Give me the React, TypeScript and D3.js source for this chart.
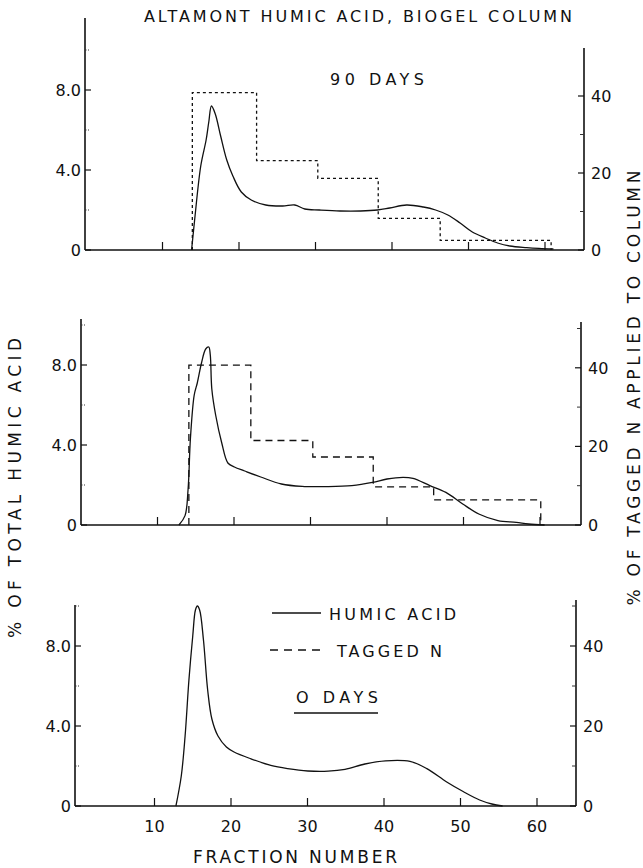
import React from "react";
import * as d3 from "d3";

// ---------- DATA ----------
const xTickValues = [10, 20, 30, 40, 50, 60];
const xTickLabels = ["10", "20", "30", "40", "50", "60"];
const leftTickValues = [0, 4, 8];
const leftTickLabels = ["0", "4.0", "8.0"];
const leftMinorTicks = [2, 6, 10];
const rightTickValues = [0, 20, 40];
const rightTickLabels = ["0", "20", "40"];
const rightMinorTicks = [10, 30, 50];

// 90 days – humic acid (% of total humic acid)
const day90Fraction = [13.8, 14.2, 15.0, 15.7, 16.05, 16.4, 16.9, 17.6, 18.4, 19.2, 20.3, 21.6, 23.5, 25.7, 27.3, 28.6, 30.5, 33.2, 35.9, 38.1, 39.7, 41.9, 44.1, 45.7, 47.3, 48.9, 50.5, 52.2, 53.8, 55.4, 57.6, 59.2, 61.1];
const day90Humic = [0, 1.5, 4.2, 5.5, 6.4, 7.2, 6.8, 5.7, 4.5, 3.7, 2.9, 2.5, 2.25, 2.2, 2.25, 2.05, 2.0, 1.95, 1.95, 2.0, 2.1, 2.25, 2.15, 2.0, 1.75, 1.35, 0.9, 0.6, 0.35, 0.2, 0.12, 0.08, 0.05];
// 90 days – tagged N (% applied), step boundaries and values
const day90StepEdges = [13.9, 22.3, 30.3, 38.2, 46.3, 60.8];
const day90TaggedN = [40.9, 23.2, 18.6, 8.2, 2.5];

// middle panel
const midFraction = [12.8, 13.6, 14.0, 14.3, 14.8, 15.2, 15.75, 16.3, 16.7, 16.9, 17.1, 17.6, 18.4, 19.2, 20.05, 21.4, 23.5, 26.2, 28.9, 32.2, 35.4, 38.1, 40.0, 42.1, 43.4, 45.6, 47.7, 49.9, 52.0, 54.5, 56.9, 58.5, 60.6];
const midHumic = [0, 0.47, 1.8, 4.3, 6.5, 7.1, 8.1, 8.8, 8.9, 8.5, 6.8, 5.5, 4.1, 3.1, 2.9, 2.7, 2.4, 2.05, 1.93, 1.92, 1.97, 2.13, 2.3, 2.38, 2.33, 1.97, 1.63, 1.05, 0.55, 0.22, 0.13, 0.05, 0];
const midStepEdges = [14.1, 22.2, 30.3, 38.2, 46.1, 60.1];
const midTaggedN = [40.7, 21.5, 17.3, 9.7, 6.4];

// 0 days – humic acid
const day0Fraction = [12.8, 13.5, 14.0, 14.5, 15.0, 15.35, 15.6, 15.9, 16.4, 16.95, 17.5, 18.3, 19.4, 20.4, 22.6, 25.2, 27.4, 30.05, 32.7, 34.9, 37.5, 40.2, 43.4, 45.6, 48.2, 50.4, 52.5, 54.1, 55.5];
const day0Humic = [0, 1.5, 3.5, 6.3, 8.5, 9.8, 10.0, 9.8, 8.3, 5.8, 4.35, 3.5, 2.95, 2.7, 2.36, 2.03, 1.87, 1.75, 1.74, 1.83, 2.1, 2.26, 2.23, 1.87, 1.2, 0.71, 0.3, 0.1, 0];

const titleText = "ALTAMONT HUMIC ACID, BIOGEL COLUMN";
const leftAxisTitle = "% OF TOTAL HUMIC ACID";
const rightAxisTitle = "% OF TAGGED N APPLIED TO COLUMN";
const xAxisTitle = "FRACTION NUMBER";
const legendHumic = "HUMIC ACID";
const legendTagged = "TAGGED N";
const label90 = "90 DAYS";
const label0 = "O DAYS";

// ---------- LAYOUT ----------
const FONT = "'DejaVu Sans', sans-serif";
const PX_PER_FRACTION = 7.65;

type Panel = {
  axisL: number; axisR: number; x0: number; base: number;
  leftTop: number; rightTop: number; rPx: number;
  fraction: number[]; humic: number[];
  edges?: number[]; tagged?: number[]; dash?: string; rightMinor: number[];
  showXLabels: boolean;
};

function PanelView({ p }: { p: Panel }) {
  const x = d3.scaleLinear().domain([0, 65]).range([p.x0, p.x0 + 65 * PX_PER_FRACTION]);
  const yL = d3.scaleLinear().domain([0, 10]).range([p.base, p.base - 200]);
  const yR = d3.scaleLinear().domain([0, 50]).range([p.base, p.base - 50 * p.rPx]);

  const humicPts: [number, number][] = p.fraction.map((f, i) => [x(f), yL(p.humic[i])]);
  const humicPath = d3.line().curve(d3.curveCatmullRom.alpha(0.5))(humicPts) || "";

  let stepPath = "";
  if (p.edges && p.tagged) {
    const pts: [number, number][] = [[x(p.edges[0]), yR(0)]];
    p.tagged.forEach((v, i) => pts.push([x(p.edges![i]), yR(v)]));
    pts.push([x(p.edges[p.edges.length - 1]), yR(0)]);
    stepPath = d3.line().curve(d3.curveStepAfter)(pts) || "";
  }

  return (
    <g>
      {/* axes */}
      <line x1={p.axisL} y1={p.base} x2={p.axisL} y2={p.leftTop} stroke="#111" strokeWidth={1.6} />
      <line x1={p.axisR} y1={p.base} x2={p.axisR} y2={p.rightTop} stroke="#111" strokeWidth={1.6} />
      <line x1={p.axisL} y1={p.base} x2={p.axisR} y2={p.base} stroke="#111" strokeWidth={1.6} />
      {/* x ticks */}
      {xTickValues.map((v, i) => (
        <g key={"xt" + v}>
          <line x1={x(v)} x2={x(v)} y1={p.base} y2={p.base - 8} stroke="#111" strokeWidth={1.2} />
          {p.showXLabels && (
            <text x={x(v)} y={p.base + 26} textAnchor="middle" fontFamily={FONT} fontSize={16} fill="#111">{xTickLabels[i]}</text>
          )}
        </g>
      ))}
      {/* left ticks */}
      {leftTickValues.map((v, i) => (
        <g key={"lt" + v}>
          <line x1={p.axisL} x2={p.axisL + 6} y1={yL(v)} y2={yL(v)} stroke="#111" strokeWidth={1.2} />
          <text x={p.axisL - 4} y={yL(v)} dy="0.36em" textAnchor="end" fontFamily={FONT} fontSize={16} fill="#111">{leftTickLabels[i]}</text>
        </g>
      ))}
      {leftMinorTicks.map((v) => (
        <line key={"lm" + v} x1={p.axisL} x2={p.axisL + 4} y1={yL(v)} y2={yL(v)} stroke="#333" strokeWidth={1} strokeDasharray="1.5,1.5" />
      ))}
      {/* right ticks */}
      {rightTickValues.map((v, i) => (
        <g key={"rt" + v}>
          <line x1={p.axisR} x2={p.axisR - 6} y1={yR(v)} y2={yR(v)} stroke="#111" strokeWidth={1.2} />
          <text x={p.axisR + 7} y={yR(v)} dy="0.36em" textAnchor="start" fontFamily={FONT} fontSize={16} fill="#111">{rightTickLabels[i]}</text>
        </g>
      ))}
      {p.rightMinor.map((v) => (
        <line key={"rm" + v} x1={p.axisR} x2={p.axisR - 4} y1={yR(v)} y2={yR(v)} stroke="#333" strokeWidth={1} />
      ))}
      {/* series */}
      {stepPath && <path d={stepPath} fill="none" stroke="#111" strokeWidth={1.3} strokeDasharray={p.dash} />}
      <path d={humicPath} fill="none" stroke="#111" strokeWidth={1.3} />
    </g>
  );
}

export default function App() {
  const panels: Panel[] = [
    { axisL: 85, axisR: 584, x0: 86, base: 250, leftTop: 18, rightTop: 48, rPx: 3.85,
      fraction: day90Fraction, humic: day90Humic, edges: day90StepEdges, tagged: day90TaggedN,
      dash: "3,3", rightMinor: [10, 30], showXLabels: false },
    { axisL: 81, axisR: 581, x0: 81, base: 525, leftTop: 319, rightTop: 322, rPx: 3.93,
      fraction: midFraction, humic: midHumic, edges: midStepEdges, tagged: midTaggedN,
      dash: "7,5", rightMinor: rightMinorTicks, showXLabels: false },
    { axisL: 75, axisR: 576, x0: 78, base: 806, leftTop: 605, rightTop: 600, rPx: 4.0,
      fraction: day0Fraction, humic: day0Humic, rightMinor: rightMinorTicks, showXLabels: true },
  ];

  return (
    <svg width={643} height={868} viewBox="0 0 643 868"
      style={{ position: "absolute", left: 0, top: 0, background: "#fff" }}>
      <rect x={0} y={0} width={643} height={868} fill="#fff" />
      <text x={144} y={22} fontFamily={FONT} fontSize={16} fill="#111" textLength={428} lengthAdjust="spacing">{titleText}</text>
      <text x={330} y={85} fontFamily={FONT} fontSize={16} fill="#111" textLength={94} lengthAdjust="spacing">{label90}</text>
      {panels.map((p, i) => <PanelView key={i} p={p} />)}
      {/* legend in bottom panel */}
      <line x1={272} x2={321} y1={613} y2={613} stroke="#111" strokeWidth={1.3} />
      <text x={329} y={620} fontFamily={FONT} fontSize={16} fill="#111" textLength={127} lengthAdjust="spacing">{legendHumic}</text>
      <line x1={270} x2={323} y1={650} y2={650} stroke="#111" strokeWidth={1.3} strokeDasharray="8,6" />
      <text x={337} y={657} fontFamily={FONT} fontSize={16} fill="#111" textLength={105} lengthAdjust="spacing">{legendTagged}</text>
      <text x={296} y={703} fontFamily={FONT} fontSize={16} fill="#111" textLength={82} lengthAdjust="spacing">{label0}</text>
      <line x1={294} x2={378} y1={713} y2={713} stroke="#111" strokeWidth={1.6} />
      {/* axis titles */}
      <text x={193} y={863} fontFamily={FONT} fontSize={17} fill="#111" textLength={204} lengthAdjust="spacing">{xAxisTitle}</text>
      <text transform="translate(21,488) rotate(-90)" textAnchor="middle" fontFamily={FONT} fontSize={17} fill="#111" textLength={300} lengthAdjust="spacing">{leftAxisTitle}</text>
      <text transform="translate(640,388) rotate(-90)" textAnchor="middle" fontFamily={FONT} fontSize={17} fill="#111" textLength={435} lengthAdjust="spacing">{rightAxisTitle}</text>
    </svg>
  );
}
